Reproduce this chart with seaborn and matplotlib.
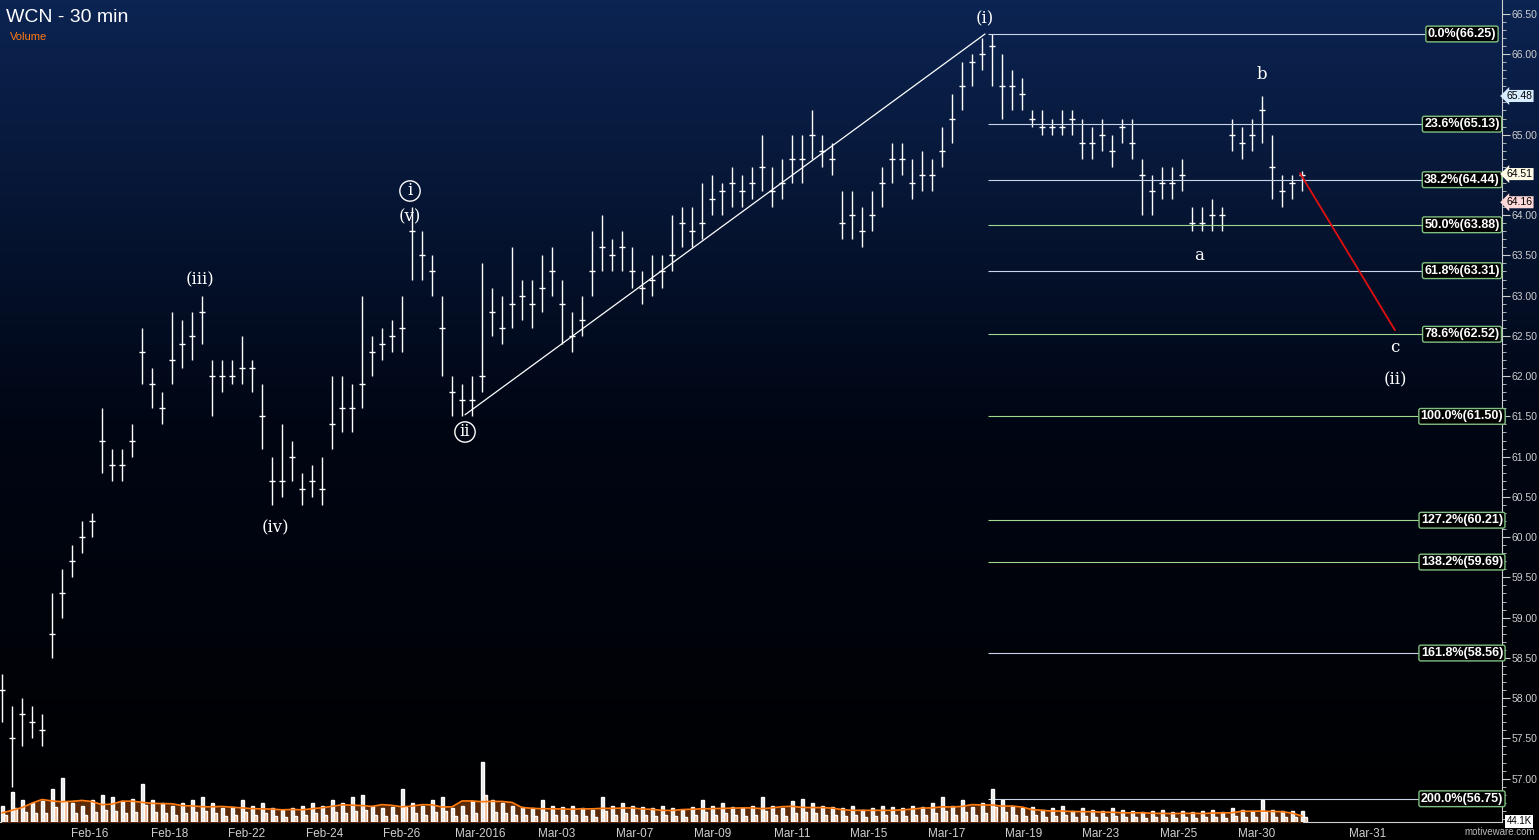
import numpy as np
import matplotlib
matplotlib.use("Agg")
import matplotlib.pyplot as plt
import seaborn as sns

sns.set_style("dark")
plt.rcParams['font.family'] = ['Liberation Sans', 'DejaVu Sans']

# closes, one every 10 px of the original chart
closes = [58.1, 57.5, 57.8, 57.7, 57.6, 58.8, 59.3, 59.7, 60.0, 60.2,
          61.2, 60.9, 60.9, 61.2, 62.3, 61.9, 61.6, 62.2, 62.4, 62.5,
          62.8, 62.0, 62.0, 62.0, 62.1, 62.1, 61.5, 60.7, 60.7, 61.0,
          60.6, 60.7, 60.6, 61.4, 61.6, 61.6, 61.9, 62.3, 62.4, 62.5,
          62.6, 63.8, 63.5, 63.3, 62.6, 61.8, 61.7, 61.7, 62.0, 62.8,
          62.6, 62.9, 63.0, 62.9, 63.1, 63.3, 62.9, 62.5, 62.7, 63.3,
          63.6, 63.5, 63.6, 63.3, 63.1, 63.2, 63.3, 63.5, 63.9, 63.8,
          63.9, 64.2, 64.3, 64.4, 64.3, 64.4, 64.6, 64.3, 64.4, 64.7,
          64.7, 65.0, 64.8, 64.7, 63.9, 64.0, 63.8, 64.0, 64.4, 64.7,
          64.7, 64.4, 64.5, 64.5, 64.8, 65.2, 65.6, 65.9, 66.0, 66.1,
          65.6, 65.6, 65.5, 65.2, 65.1, 65.1, 65.1, 65.2, 64.9, 64.9,
          65.0, 64.8, 65.1, 64.9, 64.5, 64.3, 64.4, 64.4, 64.5, 63.9,
          63.9, 64.0, 64.0, 65.0, 64.9, 65.0, 65.3, 64.6, 64.3, 64.4,
          64.5]
highs = [58.3, 57.9, 58.0, 57.9, 57.8, 59.3, 59.6, 59.9, 60.2, 60.3,
         61.6, 61.1, 61.1, 61.4, 62.6, 62.1, 61.8, 62.8, 62.7, 62.8,
         63.0, 62.2, 62.2, 62.2, 62.5, 62.2, 61.9, 61.0, 61.4, 61.2,
         60.8, 60.9, 61.0, 62.0, 62.0, 61.9, 63.0, 62.5, 62.6, 62.7,
         63.0, 64.1, 63.8, 63.5, 63.0, 62.0, 61.9, 62.0, 63.4, 63.1,
         63.0, 63.6, 63.2, 63.2, 63.5, 63.6, 63.2, 62.8, 63.0, 63.8,
         64.0, 63.7, 63.8, 63.6, 63.3, 63.5, 63.5, 64.0, 64.1, 64.1,
         64.4, 64.5, 64.4, 64.6, 64.5, 64.6, 65.0, 64.6, 64.7, 65.0,
         65.0, 65.3, 65.0, 64.9, 64.3, 64.3, 64.1, 64.3, 64.6, 64.9,
         64.9, 64.7, 64.8, 64.7, 65.1, 65.5, 65.9, 66.0, 66.2, 66.25,
         66.0, 65.8, 65.7, 65.3, 65.3, 65.2, 65.3, 65.3, 65.2, 65.1,
         65.2, 65.0, 65.2, 65.2, 64.7, 64.5, 64.6, 64.6, 64.7, 64.1,
         64.1, 64.2, 64.1, 65.2, 65.1, 65.2, 65.48, 65.0, 64.5, 64.5,
         64.55]
lows = [57.7, 56.9, 57.4, 57.5, 57.4, 58.5, 59.0, 59.5, 59.8, 60.0,
        60.8, 60.7, 60.7, 61.0, 61.9, 61.6, 61.4, 61.9, 62.1, 62.2,
        62.4, 61.5, 61.8, 61.9, 61.9, 61.8, 61.1, 60.4, 60.5, 60.7,
        60.4, 60.5, 60.4, 61.1, 61.3, 61.3, 61.6, 62.0, 62.2, 62.3,
        62.3, 63.2, 63.2, 63.0, 62.0, 61.5, 61.5, 61.5, 61.8, 62.5,
        62.4, 62.6, 62.7, 62.6, 62.8, 63.0, 62.4, 62.3, 62.5, 63.0,
        63.3, 63.3, 63.3, 63.1, 62.9, 63.0, 63.1, 63.3, 63.6, 63.6,
        63.7, 64.0, 64.0, 64.1, 64.1, 64.2, 64.3, 64.1, 64.2, 64.4,
        64.4, 64.7, 64.6, 64.5, 63.7, 63.7, 63.6, 63.8, 64.1, 64.4,
        64.5, 64.2, 64.3, 64.3, 64.6, 64.9, 65.3, 65.6, 65.8, 65.6,
        65.2, 65.3, 65.3, 65.1, 65.0, 65.0, 65.0, 65.0, 64.7, 64.7,
        64.8, 64.6, 64.9, 64.7, 64.0, 64.0, 64.2, 64.2, 64.3, 63.8,
        63.8, 63.8, 63.8, 64.8, 64.7, 64.8, 64.9, 64.2, 64.1, 64.2,
        64.3]
volume = [30, 55, 40, 35, 38, 60, 80, 35, 30, 40,
          50, 45, 38, 42, 70, 40, 35, 30, 35, 40,
          45, 35, 25, 28, 40, 30, 35, 25, 22, 25,
          30, 35, 30, 40, 35, 45, 50, 30, 25, 28,
          60, 35, 30, 40, 45, 25, 30, 38, 110, 40,
          35, 30, 28, 25, 40, 30, 28, 30, 25, 22,
          45, 30, 35, 30, 28, 25, 30, 25, 22, 28,
          40, 30, 35, 28, 25, 30, 45, 30, 25, 38,
          42, 35, 30, 28, 25, 30, 22, 25, 30, 28,
          25, 30, 28, 35, 45, 30, 40, 28, 35, 60,
          40, 30, 25, 28, 22, 25, 30, 20, 25, 22,
          20, 25, 22, 20, 18, 20, 22, 18, 20, 18,
          20, 22, 18, 25, 22, 20, 40, 22, 20, 20,
          20]
date_labels = ["Feb-16", "Feb-18", "Feb-22", "Feb-24", "Feb-26", "Mar-2016", "Mar-03",
               "Mar-07", "Mar-09", "Mar-11", "Mar-15", "Mar-17", "Mar-19", "Mar-23",
               "Mar-25", "Mar-30", "Mar-31"]
date_pos = [9.0, 17.0, 24.7, 32.5, 40.2, 48.0, 55.7, 63.5, 71.3, 79.2, 86.9, 94.7,
            102.4, 110.1, 117.9, 125.7, 136.8]
fib_pct = ["0.0%", "23.6%", "38.2%", "50.0%", "61.8%", "78.6%", "100.0%", "127.2%",
           "138.2%", "161.8%", "200.0%"]
fib_price = [66.25, 65.13, 64.44, 63.88, 63.31, 62.52, 61.50, 60.21, 59.69, 58.56, 56.75]
fib_green = [False, False, False, True, False, True, True, True, True, False, False]
tag_values = [65.48, 64.51, 64.16]
tag_colors = ["#d8ecff", "#fffbe6", "#ffd8d8"]
waves = [("i", 41.0, 66.25 - (191 - 34) / 80.5, True), ("(v)", 41.0, 66.25 - (217 - 34) / 80.5, False),
         ("(iii)", 20.0, 66.25 - (280 - 34) / 80.5, False), ("(iv)", 27.5, 66.25 - (528 - 34) / 80.5, False),
         ("ii", 46.5, 66.25 - (432 - 34) / 80.5, True), ("(i)", 98.5, 66.25 - (19 - 34) / 80.5, False),
         ("b", 126.2, 65.75, False), ("a", 119.9, 63.5, False),
         ("c", 139.5, 62.35, False), ("(ii)", 139.5, 61.95, False)]

W, H = 1539, 840
fig = plt.figure(figsize=(W / 100, H / 100), dpi=100)
fig.patch.set_facecolor("black")

# background gradient
bg = fig.add_axes([0, 0, 1, 1])
grad = np.linspace(0, 1, 256).reshape(-1, 1)
cmap = matplotlib.colors.LinearSegmentedColormap.from_list("bg", ["#000000", "#000614", "#0c2452"])
bg.imshow(grad, aspect="auto", cmap=cmap, origin="lower", extent=[0, 1, 0, 1])
bg.axis("off")

ax = fig.add_axes([0, 18 / H, 1502 / W, 822 / H])
ax.patch.set_alpha(0)
ax.set_xlim(0, 150.2)
ax.set_ylim(66.25 - (822 - 34) / 80.5, 66.25 + 34 / 80.5)
x = np.arange(len(closes)) + 0.2
ax.vlines(x, lows, highs, color="white", lw=1.0)
ax.hlines(closes, x, x + 0.3, color="white", lw=1.0)
ax.hlines(closes, x - 0.3, x, color="white", lw=1.0)

# volume
vax = ax.twinx()
vax.set_ylim(0, 1500)
vax.set_yticks([])
vax.bar(x, volume, width=0.3, color="#e8e8e8")
vol_ma = np.convolve(volume, np.ones(6) / 6, mode="same")
vax.fill_between(x, 0, vol_ma * 0.8, color="#5a2a08", zorder=0)
vax.plot(x, vol_ma * 0.8, color="#ff7a10", lw=1.2)
vax.bar(x + 0.35, np.array(volume) * 0.45, width=0.3, color="#f0b890")
for s in vax.spines.values():
    s.set_visible(False)

# fib levels
for p, pr, g in zip(fib_pct, fib_price, fib_green):
    col = "#9fd88f" if g else "#c8d4e8"
    ax.hlines(pr, 98.8, 142.5, color=col, lw=0.8)
    ax.text(146.2, pr, f"{p}({pr:.2f})", color="white", fontsize=9, fontweight="bold",
            ha="center", va="center",
            bbox=dict(boxstyle="round,pad=0.15", fc="black", ec="#7fbf7f", lw=1))

ax.plot([46.5, 98.5], [61.52, 66.25], color="white", lw=0.9)
ax.plot([130.0, 139.5], [64.52, 62.57], color="#e01010", lw=1.3)

for lbl, wx, wy, circ in waves:
    ax.text(wx, wy, lbl, color="white", fontsize=12, family="DejaVu Serif", ha="center", va="center",
            bbox=dict(boxstyle="circle,pad=0.1", fc="none", ec="white", lw=1) if circ else None)

ax.set_xticks(date_pos)
ax.set_xticklabels(date_labels, color="#cfcfcf", fontsize=8.5)
ax.tick_params(axis="x", length=3, color="#cfcfcf", pad=1)
ax.yaxis.tick_right()
yt = np.arange(57.0, 66.51, 0.5)
ax.set_yticks(yt)
# labels hidden under the price tags
ax.set_yticklabels(["" if min(abs(v - t) for t in tag_values) < 0.1 else f"{v:.2f}" for v in yt],
                   color="#cfcfcf", fontsize=7.5)
ax.set_yticks(np.arange(56.5, 66.6, 0.1), minor=True)
ax.tick_params(axis="y", which="both", direction="out", color="#cfcfcf", length=3, pad=1)
ax.tick_params(axis="y", which="major", length=6)
ax.grid(False)
for s in ["top", "left"]:
    ax.spines[s].set_visible(False)
ax.spines["right"].set_color("#cfcfcf")
ax.spines["bottom"].set_color("#cfcfcf")

for val, fc in zip(tag_values, tag_colors):
    ax.text(1.003, val, f"{val:.2f}", transform=ax.get_yaxis_transform(), color="black", fontsize=7.5,
            ha="left", va="center", zorder=5, bbox=dict(boxstyle="larrow,pad=0.1", fc=fc, ec="none"))

fig.text(6 / W, 1 - 17 / H, "WCN - 30 min", color="white", fontsize=14, va="center")
fig.text(10 / W, 1 - 37 / H, "Volume", color="#ff7a10", fontsize=8, va="center")
fig.text(1 - 4 / W, 3 / H, "motiveware.com", color="#bbbbbb", fontsize=7, ha="right", va="bottom")
ax.text(1.003, 56.47, "44.1K", transform=ax.get_yaxis_transform(), color="black", fontsize=7,
        ha="left", va="center", bbox=dict(fc="white", ec="none", pad=1))

fig.savefig("out.png", dpi=100, facecolor="black")
